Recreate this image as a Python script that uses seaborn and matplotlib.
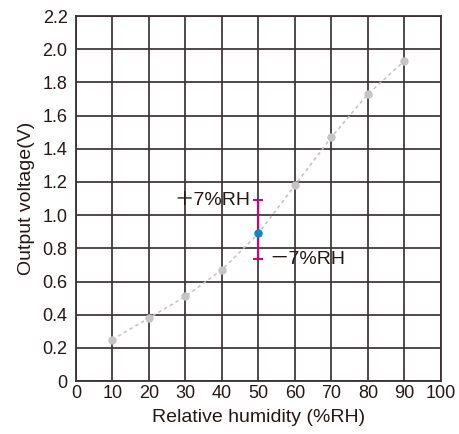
import matplotlib
matplotlib.use("Agg")
import matplotlib.pyplot as plt
import seaborn as sns
import pandas as pd

humidity = [10, 20, 30, 40, 50, 60, 70, 80, 90]
voltage = [0.25, 0.38, 0.51, 0.67, 0.89, 1.18, 1.47, 1.73, 1.93]
err_x = 50
err_center = 0.89
err_low = 0.735
err_high = 1.09
x_ticks = [0, 10, 20, 30, 40, 50, 60, 70, 80, 90, 100]
y_ticks = [0, 0.2, 0.4, 0.6, 0.8, 1.0, 1.2, 1.4, 1.6, 1.8, 2.0, 2.2]
y_labels = ["0", "0.2", "0.4", "0.6", "0.8", "1.0", "1.2", "1.4", "1.6", "1.8", "2.0", "2.2"]

sns.set_theme(style="white")
plt.rcParams['font.family'] = ['Liberation Sans', 'DejaVu Sans']

df = pd.DataFrame({"h": humidity, "v": voltage})

fig = plt.figure(figsize=(4.6, 4.34), dpi=100)
ax = fig.add_axes([0.165, 0.122, 0.7937, 0.841])

grid_c = "#3a3232"
txt_c = "#231815"
for xv in x_ticks:
    ax.axvline(xv, color=grid_c, lw=1.25, zorder=1)
for yv in y_ticks:
    ax.axhline(yv, color=grid_c, lw=1.25, zorder=1)

sns.lineplot(data=df, x="h", y="v", ax=ax, color="#c4c4c4", lw=1.2,
             linestyle=(0, (2, 2)), marker="o", markersize=6,
             markeredgewidth=0, zorder=3)

ax.errorbar([err_x], [err_center],
            yerr=[[err_center - err_low], [err_high - err_center]],
            fmt="none", ecolor="#d4006e", elinewidth=1.6, capsize=3.6,
            capthick=1.4, zorder=4)
ax.plot([err_x], [err_center], "o", color="#0a8ac4", markersize=6,
        markeredgewidth=0, zorder=5)

ann_font = ['Liberation Sans', 'Noto Sans CJK JP']
ax.text(err_x - 2.2, err_high, "\uff0b7%RH", ha="right", va="center",
        fontsize=14, color=txt_c, family=ann_font)
ax.text(err_x + 3.0, err_low, "\uff0d7%RH", ha="left", va="center",
        fontsize=14, color=txt_c, family=ann_font)

ax.set_xlim(0, 100)
ax.set_ylim(0, 2.2)
ax.set_xticks(x_ticks)
ax.set_yticks(y_ticks)
ax.set_yticklabels(y_labels)
ax.tick_params(axis="both", length=0, labelsize=13, colors=txt_c)
ax.tick_params(axis="y", pad=6)
ax.tick_params(axis="x", pad=3)
ax.set_xlabel("Relative humidity (%RH)", fontsize=14, color=txt_c, labelpad=5)
ax.set_ylabel("Output voltage(V)", fontsize=14, color=txt_c, labelpad=5)
for s in ax.spines.values():
    s.set_color(grid_c)
    s.set_linewidth(1.3)
    s.set_visible(True)

fig.savefig("out.png", dpi=100)
